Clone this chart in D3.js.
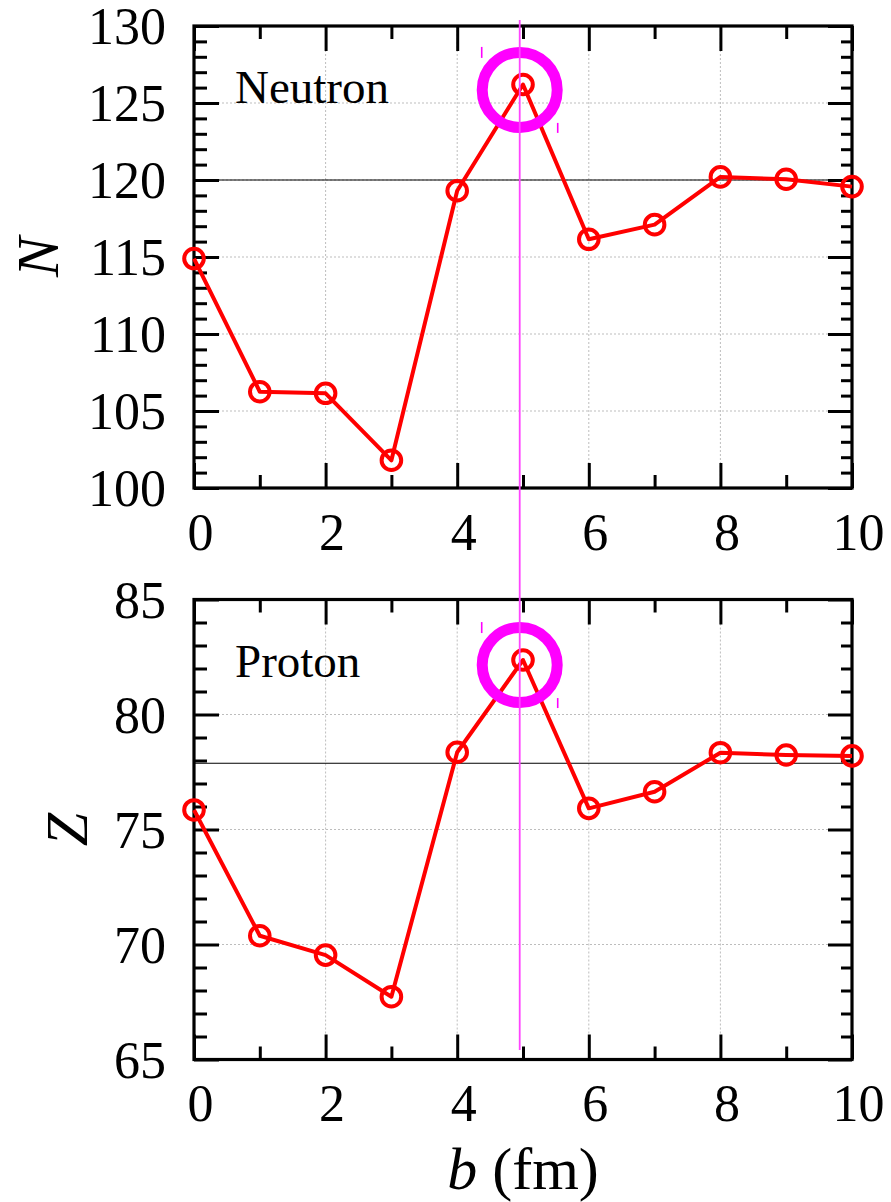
<!DOCTYPE html>
<html>
<head>
<meta charset="utf-8">
<script src="https://cdn.jsdelivr.net/npm/d3@7"></script>
<style>
  html, body { margin: 0; padding: 0; background: #fff; }
  svg text { font-family: "Liberation Serif", "Times New Roman", serif; fill: #000; }
</style>
</head>
<body>
<svg id="chart" width="891" height="1202"></svg>
<script>
// Impact parameter b (fm)
const impactB = [0, 1, 2, 3, 4, 5, 6, 7, 8, 9, 10];
// Neutron number N and proton number Z vs b
const neutronN = [114.9, 106.25, 106.15, 101.8, 119.3, 126.2, 116.15, 117.1, 120.2, 120.05, 119.57];
const protonZ  = [75.85, 70.38, 69.54, 67.73, 78.36, 82.37, 75.92, 76.64, 78.34, 78.24, 78.2];
// Horizontal reference levels
const neutronRef = 120;
const protonRef = 77.88;
// Highlighted point (magenta ring) and vertical marker
const highlightB = 4.95;
const highlightN = 125.85;
const highlightZ = 82.15;
// Axis ticks
const xMajor = [0, 2, 4, 6, 8, 10];
const xMinor = [1, 3, 5, 7, 9];
const nMajor = [100, 105, 110, 115, 120, 125, 130];
const zMajor = [65, 70, 75, 80, 85];

const SERIF = "'Liberation Serif', 'Times New Roman', serif";
const svg = d3.select("#chart");
const x = d3.scaleLinear().domain([0, 10]).range([194, 852]);

const panels = [
  { values: neutronN, ref: neutronRef, hl: highlightN, major: nMajor, domain: [100, 130],
    range: [488, 26], title: "N", titleX: 58, label: "Neutron" },
  { values: protonZ, ref: protonRef, hl: highlightZ, major: zMajor, domain: [65, 85],
    range: [1059.5, 599.5], title: "Z", titleX: 87, label: "Proton" }
];

function minorTicks(major) {
  const out = [];
  for (let v = major[0]; v <= major[major.length - 1]; v += 1) {
    if (!major.includes(v)) out.push(v);
  }
  return out;
}

function styleAxis(g, width) {
  g.select(".domain").remove();
  g.selectAll(".tick line").attr("stroke", "#000").attr("stroke-width", width);
}

panels.forEach(p => {
  const y = d3.scaleLinear().domain(p.domain).range(p.range);
  const [x0, x1] = x.range();
  const yb = p.range[0], yt = p.range[1];
  const g = svg.append("g");

  // dotted grid at major ticks
  g.append("g").selectAll("line.gx").data(xMajor.slice(1, -1)).join("line")
    .attr("x1", d => x(d)).attr("x2", d => x(d)).attr("y1", yt).attr("y2", yb)
    .attr("stroke", "#bdbdbd").attr("stroke-width", 1).attr("stroke-dasharray", "2,2");
  g.append("g").selectAll("line.gy").data(p.major.slice(1, -1)).join("line")
    .attr("x1", x0).attr("x2", x1).attr("y1", d => y(d)).attr("y2", d => y(d))
    .attr("stroke", "#bdbdbd").attr("stroke-width", 1).attr("stroke-dasharray", "2,2");

  // reference level
  g.append("line").attr("x1", x0).attr("x2", x1)
    .attr("y1", y(p.ref)).attr("y2", y(p.ref))
    .attr("stroke", "#000").attr("stroke-width", 1.2);

  // inward ticks on all four sides
  const minor = minorTicks(p.major);
  const addAxis = (axis, tx, ty, w) => {
    const a = g.append("g").attr("transform", `translate(${tx},${ty})`).call(axis);
    a.selectAll("text").remove();
    styleAxis(a, w);
  };
  addAxis(d3.axisLeft(y).tickValues(p.major).tickSize(-25), x0, 0, 3);
  addAxis(d3.axisLeft(y).tickValues(minor).tickSize(-13), x0, 0, 3);
  addAxis(d3.axisRight(y).tickValues(p.major).tickSize(-24), x1, 0, 3);
  addAxis(d3.axisRight(y).tickValues(minor).tickSize(-11), x1, 0, 3);
  addAxis(d3.axisTop(x).tickValues(xMajor).tickSize(-25), 0, yt, 3);
  addAxis(d3.axisTop(x).tickValues(xMinor).tickSize(-13), 0, yt, 3);
  addAxis(d3.axisBottom(x).tickValues(xMajor).tickSize(-25), 0, yb, 3);
  addAxis(d3.axisBottom(x).tickValues(xMinor).tickSize(-13), 0, yb, 3);

  // frame
  g.append("rect").attr("x", x0).attr("y", yt).attr("width", x1 - x0).attr("height", yb - yt)
    .attr("fill", "none").attr("stroke", "#000").attr("stroke-width", 3.2);

  // tick labels
  const yl = g.append("g").attr("transform", `translate(${x0},0)`)
    .call(d3.axisLeft(y).tickValues(p.major).tickSize(0).tickPadding(28))
    .attr("font-family", SERIF);
  yl.select(".domain").remove();
  yl.selectAll("text").attr("font-size", 52).attr("dy", "0.34em")
    .attr("font-family", SERIF).attr("fill", "#000");

  const xl = g.append("g").attr("transform", `translate(6,${yb})`)
    .call(d3.axisBottom(x).tickValues(xMajor).tickSize(0).tickPadding(25))
    .attr("font-family", SERIF);
  xl.select(".domain").remove();
  xl.selectAll("text").attr("font-size", 52)
    .attr("font-family", SERIF).attr("fill", "#000");

  // panel label
  g.append("text").attr("x", 235).attr("y", yt + 77).attr("font-size", 47).text(p.label);

  // y-axis title
  const cy = (yt + yb) / 2;
  g.append("text").attr("transform", `translate(${p.titleX},${cy}) rotate(-90)`)
    .attr("text-anchor", "middle").attr("font-size", 60).attr("font-style", "italic")
    .text(p.title);

  // data line and markers
  const line = d3.line().x((d, i) => x(impactB[i])).y(d => y(d));
  g.append("path").datum(p.values).attr("d", line)
    .attr("fill", "none").attr("stroke", "#f00").attr("stroke-width", 4)
    .attr("stroke-linejoin", "round");
  g.append("g").selectAll("circle").data(p.values).join("circle")
    .attr("cx", (d, i) => x(impactB[i])).attr("cy", d => y(d)).attr("r", 9.8)
    .attr("fill", "none").attr("stroke", "#f00").attr("stroke-width", 4);

  // highlight ring with small corner marks
  const hx = x(highlightB), hy = y(p.hl);
  g.append("circle").attr("cx", hx).attr("cy", hy).attr("r", 37.5)
    .attr("fill", "none").attr("stroke", "#ff00ff").attr("stroke-width", 11);
  g.append("line").attr("x1", hx - 38).attr("x2", hx - 38).attr("y1", hy - 43).attr("y2", hy - 32)
    .attr("stroke", "#ff00ff").attr("stroke-width", 1.6);
  g.append("line").attr("x1", hx + 38).attr("x2", hx + 38).attr("y1", hy + 33).attr("y2", hy + 43)
    .attr("stroke", "#ff00ff").attr("stroke-width", 1.6);
});

// vertical marker through both panels
svg.append("line").attr("x1", x(highlightB)).attr("x2", x(highlightB))
  .attr("y1", 20).attr("y2", 1050)
  .attr("stroke", "#ff44ff").attr("stroke-width", 1.8);

// x-axis title
svg.append("text").attr("x", 523).attr("y", 1189).attr("text-anchor", "middle")
  .attr("font-size", 60)
  .call(t => {
    t.append("tspan").attr("font-style", "italic").text("b");
    t.append("tspan").text(" (fm)");
  });
</script>
</body>
</html>
